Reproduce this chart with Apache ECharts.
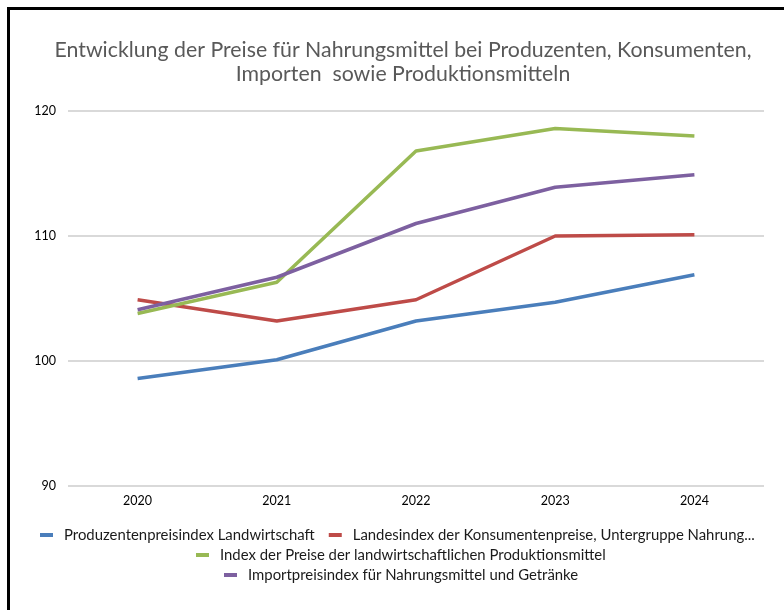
<!DOCTYPE html>
<html>
<head>
<meta charset="utf-8">
<script src="https://cdn.jsdelivr.net/npm/echarts@6/dist/echarts.min.js"></script>
<style>
html,body{margin:0;padding:0;background:#fff;width:784px;height:610px;overflow:hidden;}
#frame{position:absolute;left:7px;top:7px;width:900px;height:800px;border-top:3px solid #000;border-left:3px solid #000;box-sizing:border-box;}
#chart{position:absolute;left:0;top:0;width:784px;height:610px;}
</style>
</head>
<body>
<div id="frame"></div>
<div id="chart"></div>
<script>
const titleText = "Entwicklung der Preise für Nahrungsmittel bei Produzenten, Konsumenten,\nImporten  sowie Produktionsmitteln";
const years = ["2020", "2021", "2022", "2023", "2024"];
const seriesNames = [
  "Produzentenpreisindex Landwirtschaft",
  "Landesindex der Konsumentenpreise, Untergruppe Nahrung...",
  "Index der Preise der landwirtschaftlichen Produktionsmittel",
  "Importpreisindex für Nahrungsmittel und Getränke"
];
const produzenten = [98.6, 100.1, 103.2, 104.7, 106.9];
const konsumenten = [104.9, 103.2, 104.9, 110.0, 110.1];
const produktionsmittel = [103.8, 106.3, 116.8, 118.6, 118.0];
const importpreise = [104.1, 106.7, 111.0, 113.9, 114.9];
const yMin = 90, yMax = 120, yStep = 10;
const colors = ["#4A7EBB", "#BE4B48", "#98B954", "#7D60A0"];

const font = "Lato";
const chart = echarts.init(document.getElementById('chart'), null, {renderer: 'canvas'});
const values = [produzenten, konsumenten, produktionsmittel, importpreise];
const legendStyle = {
  icon: 'rect', itemWidth: 13, itemHeight: 4, itemGap: 14, padding: 0,
  textStyle: {fontFamily: font, fontSize: 14.9, color: '#1a1a1a', lineHeight: 18, padding: [0, 0, 0, 6]},
  selectedMode: false
};
chart.setOption({
  animation: false,
  title: {
    text: titleText, left: 398, top: 33, textAlign: 'center',
    textStyle: {fontFamily: font, fontSize: 21.3, fontWeight: 'normal', color: '#595959', lineHeight: 24}
  },
  legend: [
    Object.assign({data: [seriesNames[0], seriesNames[1]], left: 40, top: 526}, legendStyle),
    Object.assign({data: [seriesNames[2]], left: 196, top: 546}, legendStyle),
    Object.assign({data: [seriesNames[3]], left: 224, top: 566}, legendStyle)
  ],
  grid: {left: 68, right: 20, top: 111, bottom: 124, containLabel: false},
  xAxis: {
    type: 'category', data: years, boundaryGap: true,
    axisLine: {show: false}, axisTick: {show: false},
    axisLabel: {fontFamily: font, fontSize: 12.5, color: '#000', margin: 8}
  },
  yAxis: {
    type: 'value', min: yMin, max: yMax, interval: yStep,
    axisLine: {show: false}, axisTick: {show: false},
    axisLabel: {fontFamily: font, fontSize: 12.5, color: '#000', margin: 12},
    splitLine: {lineStyle: {color: '#D9D9D9', width: 2}}
  },
  series: values.map((v, i) => ({
    name: seriesNames[i], type: 'line', data: v,
    showSymbol: false, symbol: 'none',
    lineStyle: {color: colors[i], width: 3.5, cap: 'butt'},
    itemStyle: {color: colors[i]}
  }))
});
</script>
</body>
</html>
